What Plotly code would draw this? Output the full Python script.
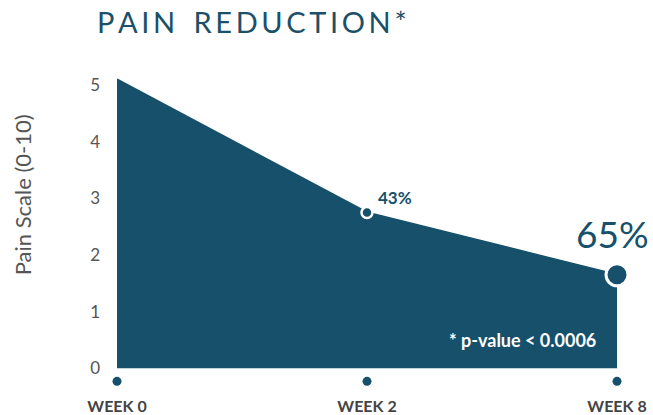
import plotly.graph_objects as go

weeks = ["WEEK 0", "WEEK 2", "WEEK 8"]
pain = [5.1, 2.75, 1.65]
reduction_labels = ["", "43%", "65%"]
y_ticks = [0, 1, 2, 3, 4, 5]

DARK = "#16506b"
GREY = "#555555"
FONT = "Lato, sans-serif"

fig = go.Figure()

# filled area
fig.add_trace(go.Scatter(
    x=weeks, y=pain, mode="lines", fill="tozeroy",
    line=dict(color=DARK, width=2), fillcolor=DARK,
    cliponaxis=False, hoverinfo="skip", showlegend=False))

# week 2 marker (small, white ring)
fig.add_trace(go.Scatter(
    x=[weeks[1]], y=[pain[1]], mode="markers",
    marker=dict(size=11, color=DARK, line=dict(color="white", width=2.5)),
    cliponaxis=False, showlegend=False))

# week 8 marker (large)
fig.add_trace(go.Scatter(
    x=[weeks[2]], y=[pain[2]], mode="markers",
    marker=dict(size=22, color=DARK, line=dict(color="white", width=3)),
    cliponaxis=False, showlegend=False))

# dots below axis at each category
dot_y = -0.23
fig.add_trace(go.Scatter(
    x=weeks, y=[dot_y] * len(weeks), mode="markers",
    marker=dict(size=9, color=DARK),
    cliponaxis=False, showlegend=False))

# annotations
fig.add_annotation(x=weeks[1], y=pain[1], text="<b>" + reduction_labels[1] + "</b>",
                   showarrow=False, xanchor="left", yanchor="bottom",
                   xshift=9, yshift=3,
                   font=dict(family=FONT, size=17, color=DARK))
fig.add_annotation(x=weeks[2], y=pain[2], text=reduction_labels[2],
                   showarrow=False, xanchor="right", yanchor="bottom",
                   xshift=34, yshift=17,
                   font=dict(family=FONT, size=37, color=DARK))
fig.add_annotation(x=weeks[2], y=0.5, text="<b>* p-value < 0.0006</b>",
                   showarrow=False, xanchor="right", yanchor="middle",
                   xshift=-19,
                   font=dict(family=FONT, size=18, color="white"))
# y-axis title
fig.add_annotation(xref="paper", yref="paper", x=-0.19, y=0.606,
                   text="Pain Scale (0-10)", textangle=-90, showarrow=False,
                   xanchor="center", yanchor="middle",
                   font=dict(family=FONT, size=22, color=GREY))

title_text = "\u2009".join("PAIN REDUCTION*").replace("\u2009 \u2009", "\u2009\u2009 \u2009")

fig.update_layout(
    width=653, height=415,
    margin=dict(l=117, r=36, t=68, b=24),
    paper_bgcolor="white", plot_bgcolor="white",
    title=dict(text=title_text, x=97 / 653, xanchor="left", y=0.945, yanchor="middle",
               font=dict(family=FONT, size=29, color="#1b5068")),
    xaxis=dict(type="category", range=[0, 2], showgrid=False, zeroline=False,
               showline=False, ticks="", ticklabelstandoff=4, automargin=False,
               tickfont=dict(family=FONT, size=16, color="#444444"),
               tickvals=weeks, ticktext=["<b>" + w + "</b>" for w in weeks]),
    yaxis=dict(range=[-0.4, 5.3], tickvals=y_ticks, showgrid=False, zeroline=False,
               showline=False, ticks="", ticklabelstandoff=16, automargin=False,
               tickfont=dict(family=FONT, size=17, color=GREY)),
)

fig.write_html("out.html")
